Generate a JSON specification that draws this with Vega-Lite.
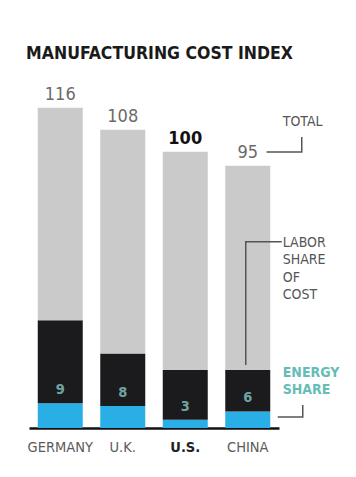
{
  "$schema": "https://vega.github.io/schema/vega-lite/v6.json",
  "autosize": {"type": "none"},
  "padding": {"left": 29, "top": 69, "right": 77, "bottom": 49},
  "width": 250,
  "height": 359,
  "background": "white",
  "title": {
    "text": "MANUFACTURING COST INDEX",
    "anchor": "start",
    "font": "DejaVu Sans Condensed, DejaVu Sans",
    "fontSize": 17.5,
    "fontWeight": "bold",
    "color": "#1a1a1a",
    "offset": 7,
    "dx": -1
  },
  "config": {
    "view": {"stroke": null},
    "font": "DejaVu Sans Condensed, Liberation Sans Narrow, Roboto"
  },
  "datasets": {
    "segments": [
      {"country": "GERMANY", "part": "Energy", "rank": 1, "value": 9},
      {"country": "GERMANY", "part": "Labor", "rank": 2, "value": 30},
      {"country": "GERMANY", "part": "Other", "rank": 3, "value": 77},
      {"country": "U.K.", "part": "Energy", "rank": 1, "value": 8},
      {"country": "U.K.", "part": "Labor", "rank": 2, "value": 19},
      {"country": "U.K.", "part": "Other", "rank": 3, "value": 81},
      {"country": "U.S.", "part": "Energy", "rank": 1, "value": 3},
      {"country": "U.S.", "part": "Labor", "rank": 2, "value": 18},
      {"country": "U.S.", "part": "Other", "rank": 3, "value": 79},
      {"country": "CHINA", "part": "Energy", "rank": 1, "value": 6},
      {"country": "CHINA", "part": "Labor", "rank": 2, "value": 15},
      {"country": "CHINA", "part": "Other", "rank": 3, "value": 74}
    ],
    "totals": [
      {"country": "GERMANY", "total": 116, "energy": 9},
      {"country": "U.K.", "total": 108, "energy": 8},
      {"country": "U.S.", "total": 100, "energy": 3},
      {"country": "CHINA", "total": 95, "energy": 6}
    ],
    "notes": [
      {"note": "TOTAL", "text": ["TOTAL"], "nx": 4.06, "ny": 113.5, "kind": "gray"},
      {"note": "LABOR", "text": ["LABOR", "SHARE", "OF", "COST"], "nx": 4.06, "ny": 69.6, "kind": "gray"},
      {"note": "ENERGY", "text": ["ENERGY", "SHARE"], "nx": 4.06, "ny": 22.6, "kind": "teal"}
    ],
    "leaders": [
      {"note": "TOTAL", "step": 1, "lx": 3.8, "ly": 99.9},
      {"note": "TOTAL", "step": 2, "lx": 4.364, "ly": 99.9},
      {"note": "TOTAL", "step": 3, "lx": 4.364, "ly": 105.4},
      {"note": "LABOR", "step": 1, "lx": 4.044, "ly": 67.4},
      {"note": "LABOR", "step": 2, "lx": 3.468, "ly": 67.4},
      {"note": "LABOR", "step": 3, "lx": 3.468, "ly": 22.8},
      {"note": "ENERGY", "step": 1, "lx": 4.38, "ly": 8.3},
      {"note": "ENERGY", "step": 2, "lx": 4.38, "ly": 4.0},
      {"note": "ENERGY", "step": 3, "lx": 3.98, "ly": 4.0}
    ]
  },
  "resolve": {"scale": {"x": "independent"}},
  "layer": [
    {
      "data": {"name": "segments"},
      "mark": {"type": "bar"},
      "encoding": {
        "x": {
          "field": "country",
          "type": "nominal",
          "sort": ["GERMANY", "U.K.", "U.S.", "CHINA"],
          "scale": {"paddingInner": 0.28, "paddingOuter": 0.14},
          "axis": {
            "title": null,
            "ticks": false,
            "domainColor": "#111111",
            "domainWidth": 2.5,
            "labelAngle": 0,
            "labelPadding": 12,
            "labelFont": "DejaVu Sans Condensed, Liberation Sans Narrow, Roboto",
            "labelFontSize": 14.5,
            "labelColor": {"condition": {"test": "datum.value === 'U.S.'", "value": "#222222"}, "value": "#5a5a5a"},
            "labelFontWeight": {"condition": {"test": "datum.value === 'U.S.'", "value": "bold"}, "value": "normal"}
          }
        },
        "y": {
          "field": "value",
          "type": "quantitative",
          "stack": "zero",
          "scale": {"domain": [0, 130], "nice": false},
          "axis": null
        },
        "order": {"field": "rank", "type": "quantitative"},
        "color": {
          "field": "part",
          "type": "nominal",
          "scale": {"domain": ["Energy", "Labor", "Other"], "range": ["#2aaee6", "#1b1b1d", "#cacaca"]},
          "legend": null
        }
      }
    },
    {
      "data": {"name": "totals"},
      "layer": [
        {
          "mark": {"type": "text", "baseline": "alphabetic", "dy": -8, "fontSize": 18, "color": "#6a6a6a"},
          "encoding": {
            "text": {"condition": {"test": "datum.country !== 'U.S.'", "field": "total"}, "value": ""}
          }
        },
        {
          "mark": {"type": "text", "baseline": "alphabetic", "dy": -8, "fontSize": 18, "fontWeight": "bold", "color": "#111111"},
          "encoding": {
            "text": {"condition": {"test": "datum.country === 'U.S.'", "field": "total"}, "value": ""}
          }
        }
      ],
      "encoding": {
        "x": {"field": "country", "type": "nominal", "sort": ["GERMANY", "U.K.", "U.S.", "CHINA"], "scale": {"paddingInner": 0.28, "paddingOuter": 0.14}, "axis": null},
        "y": {"field": "total", "type": "quantitative"}
      }
    },
    {
      "data": {"name": "totals"},
      "mark": {"type": "text", "baseline": "middle", "dy": -13, "fontSize": 14.5, "fontWeight": "bold", "color": "#6fa3a3"},
      "encoding": {
        "x": {"field": "country", "type": "nominal", "sort": ["GERMANY", "U.K.", "U.S.", "CHINA"], "scale": {"paddingInner": 0.28, "paddingOuter": 0.14}, "axis": null},
        "y": {"field": "energy", "type": "quantitative"},
        "text": {"field": "energy"}
      }
    },
    {
      "data": {"name": "leaders"},
      "mark": {"type": "line", "color": "#555555", "strokeWidth": 1.5},
      "encoding": {
        "x": {"field": "lx", "type": "quantitative", "scale": {"domain": [0, 4], "nice": false, "zero": false}, "axis": null},
        "y": {"field": "ly", "type": "quantitative"},
        "detail": {"field": "note"},
        "order": {"field": "step", "type": "quantitative"}
      }
    },
    {
      "data": {"name": "notes"},
      "transform": [{"filter": "datum.kind === 'gray'"}],
      "mark": {"type": "text", "align": "left", "baseline": "top", "fontSize": 14, "lineHeight": 17.5, "color": "#555555"},
      "encoding": {
        "x": {"field": "nx", "type": "quantitative", "scale": {"domain": [0, 4], "nice": false, "zero": false}, "axis": null},
        "y": {"field": "ny", "type": "quantitative"},
        "text": {"field": "text"}
      }
    },
    {
      "data": {"name": "notes"},
      "transform": [{"filter": "datum.kind === 'teal'"}],
      "mark": {"type": "text", "align": "left", "baseline": "top", "fontSize": 14, "fontWeight": "bold", "lineHeight": 17.5, "color": "#66bdb6"},
      "encoding": {
        "x": {"field": "nx", "type": "quantitative", "scale": {"domain": [0, 4], "nice": false, "zero": false}, "axis": null},
        "y": {"field": "ny", "type": "quantitative"},
        "text": {"field": "text"}
      }
    }
  ]
}
